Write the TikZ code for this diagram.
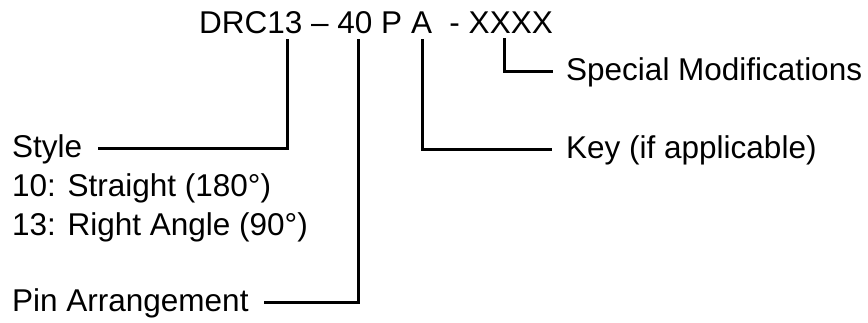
\documentclass[tikz,border=0pt]{standalone}
\usepackage{fontspec}
\setmainfont{Liberation Sans}
\usepackage{tikz}
\definecolor{ink}{HTML}{000000}

\begin{document}
\begin{tikzpicture}[x=1pt,y=1pt,
  part/.style={font=\fontsize{31.5}{39}\selectfont,text=ink,inner sep=0pt,anchor=base west},
  lbl/.style={font=\fontsize{31.5}{39}\selectfont,text=ink,inner sep=0pt,
    text height=22pt,text depth=4pt,anchor=base west},
  lead/.style={draw=ink,line width=3pt}]

  \useasboundingbox (0,0) rectangle (868,-322);

  \node[part] (code) at (199,-33) {DRC13 – 40 P A\ \ - XXXX};

  \node[lbl] (style) at (12,-157) {Style};
  \node[lbl] (opt10) at (12,-196) {10: Straight (180°)};
  \node[lbl] (opt13) at (12,-235) {13: Right Angle (90°)};
  \node[lbl] (pin)   at (12,-311.5) {Pin Arrangement};
  \node[lbl] (key)   at (566,-158) {Key (if applicable)};
  \node[lbl] (mods)  at (566,-80) {Special Modifications};

  \coordinate (tStyle) at (287,-39);
  \coordinate (tPin)   at (358,-39);
  \coordinate (tKey)   at (422,-39);
  \coordinate (tMod)   at (504,-38);

  \draw[lead,shorten >=16pt] (tStyle) |- (style.east);
  \draw[lead,shorten >=15pt] (tPin) |- (pin.east);
  \draw[lead,shorten >=14pt] (tKey) |- (key.west);
  \draw[lead,shorten >=13pt] (tMod) |- (mods.west);
\end{tikzpicture}
\end{document}
